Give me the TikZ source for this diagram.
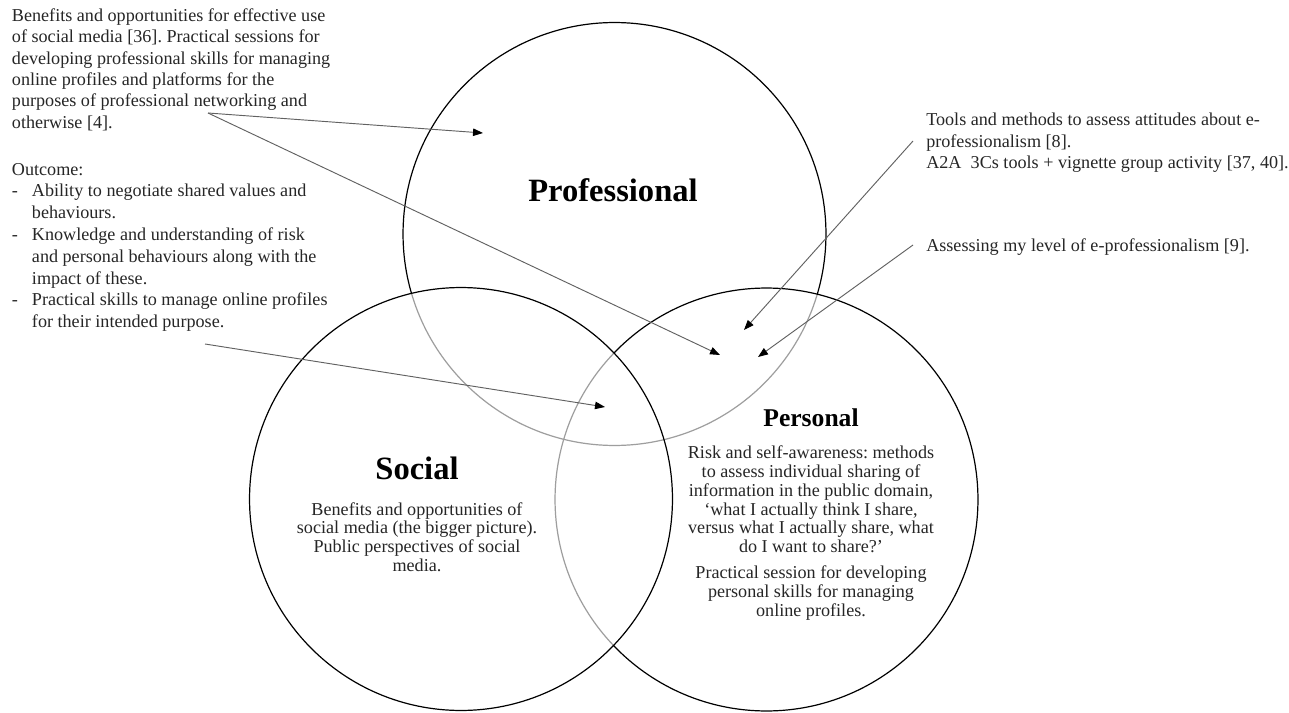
\documentclass[tikz,border=0pt]{standalone}
\usepackage{fontspec}
\setmainfont{Liberation Serif}
\usetikzlibrary{arrows.meta}
\frenchspacing

% bullet dash with hanging indent for the outcome list
\newcommand{\outdash}{\makebox[15pt][l]{-}}
\newcommand{\outgap}{\hspace*{15pt}}

\begin{document}
\begin{tikzpicture}[x=0.75pt,y=-0.75pt,
  ring/.style={line width=0.9pt, draw=black},
  ringfaint/.style={line width=0.9pt, draw=black!38},
  pointer/.style={draw=black!62, line width=0.7pt,
    -{Triangle[length=7.5pt,width=5.6pt,color=black]}},
  bodyleft/.style={inner sep=0pt, text=black!85, align=left, anchor=base west,
    font=\fontsize{13.6}{16}\selectfont},
  bodymid/.style={inner sep=0pt, text=black!85, align=center, anchor=base,
    font=\fontsize{13.6}{14}\selectfont},
  heading/.style={inner sep=0pt, anchor=base, text=black,
    font=\bfseries\fontsize{24.4}{26}\selectfont}
]
\def\R{158.6pt}

% canvas
\path[use as bounding box, fill=white] (0,0) rectangle (1289,713);

% circle centres
\coordinate (cProf) at (614.5,234);
\coordinate (cSoc)  at (461,499);
\coordinate (cPers) at (766.5,499.5);

% Professional ring
\draw[ring] (cProf) circle[radius=\R];

% Personal ring: hides the Professional outline beneath it
\fill[white] (cPers) circle[radius=\R];
\begin{scope}
  \clip (cPers) circle[radius=\R];
  \draw[ringfaint] (cProf) circle[radius=\R];
\end{scope}
\draw[ring] (cPers) circle[radius=\R];

% Social ring on top of both
\fill[white] (cSoc) circle[radius=\R];
\begin{scope}
  \clip (cSoc) circle[radius=\R];
  \draw[ringfaint] (cProf) circle[radius=\R];
  \draw[ringfaint] (cPers) circle[radius=\R];
\end{scope}
\draw[ring] (cSoc) circle[radius=\R];

% ring headings
\node[heading] (profTitle) at (613,201.7) {Professional};
\node[heading] (socTitle) at (417,479.3) {Social};
\node[heading, font=\bfseries\fontsize{19.2}{21}\selectfont] (persTitle) at (811,426.7) {Personal};

% text inside the rings (anchored at the baseline of the last line)
\node[bodymid] (socText) at (417,571) {Benefits and opportunities of\\
social media (the bigger picture).\\
Public perspectives of social\\
media.};

\node[bodymid, font=\fontsize{13.6}{14.1}\selectfont] (persText) at (811,616)
{Risk and self-awareness: methods\\
to assess individual sharing of\\
information in the public domain,\\
‘what I actually think I share,\\
versus what I actually share, what\\
do I want to share?’\\[5.2pt]
Practical session for developing\\
personal skills for managing\\
online profiles.};

% side notes (anchored at the baseline of the last line)
\node[bodyleft] (benefits) at (11.7,128.2)
{Benefits and opportunities for effective use\\
of social media [36]. Practical sessions for\\
developing professional skills for managing\\
online profiles and platforms for the\\
purposes of professional networking and\\
otherwise [4].};

\node[bodyleft, font=\fontsize{13.6}{16.35}\selectfont] (outcome) at (11.7,327.6)
{Outcome:\\
\outdash Ability to negotiate shared values and\\
\outgap behaviours.\\
\outdash Knowledge and understanding of risk\\
\outgap and personal behaviours along with the\\
\outgap impact of these.\\
\outdash Practical skills to manage online profiles\\
\outgap for their intended purpose.};

\node[bodyleft, font=\fontsize{13.6}{15.9}\selectfont] (tools) at (926,168.4)
{Tools and methods to assess attitudes about e-\\
professionalism [8].\\
A2A\hspace{3.5pt} 3Cs tools + vignette group activity [37, 40].};

\node[bodyleft] (assess) at (926,251.7) {Assessing my level of e-professionalism [9].};

% connector ends
\coordinate (fromBenefits) at (208,113);
\coordinate (toProf) at (483,133);
\coordinate (toCore) at (720,355);
\coordinate (fromOutcome) at (205,344);
\coordinate (toSocPers) at (605,407);
\coordinate (fromTools) at (913,141);
\coordinate (toTools) at (744,330);
\coordinate (fromAssess) at (913,245);
\coordinate (toAssess) at (758,357);

% connectors
\draw[pointer] (fromBenefits) -- (toProf);
\draw[pointer] (fromBenefits) -- (toCore);
\draw[pointer] (fromOutcome) -- (toSocPers);
\draw[pointer] (fromTools) -- (toTools);
\draw[pointer] (fromAssess) -- (toAssess);
\end{tikzpicture}
\end{document}
